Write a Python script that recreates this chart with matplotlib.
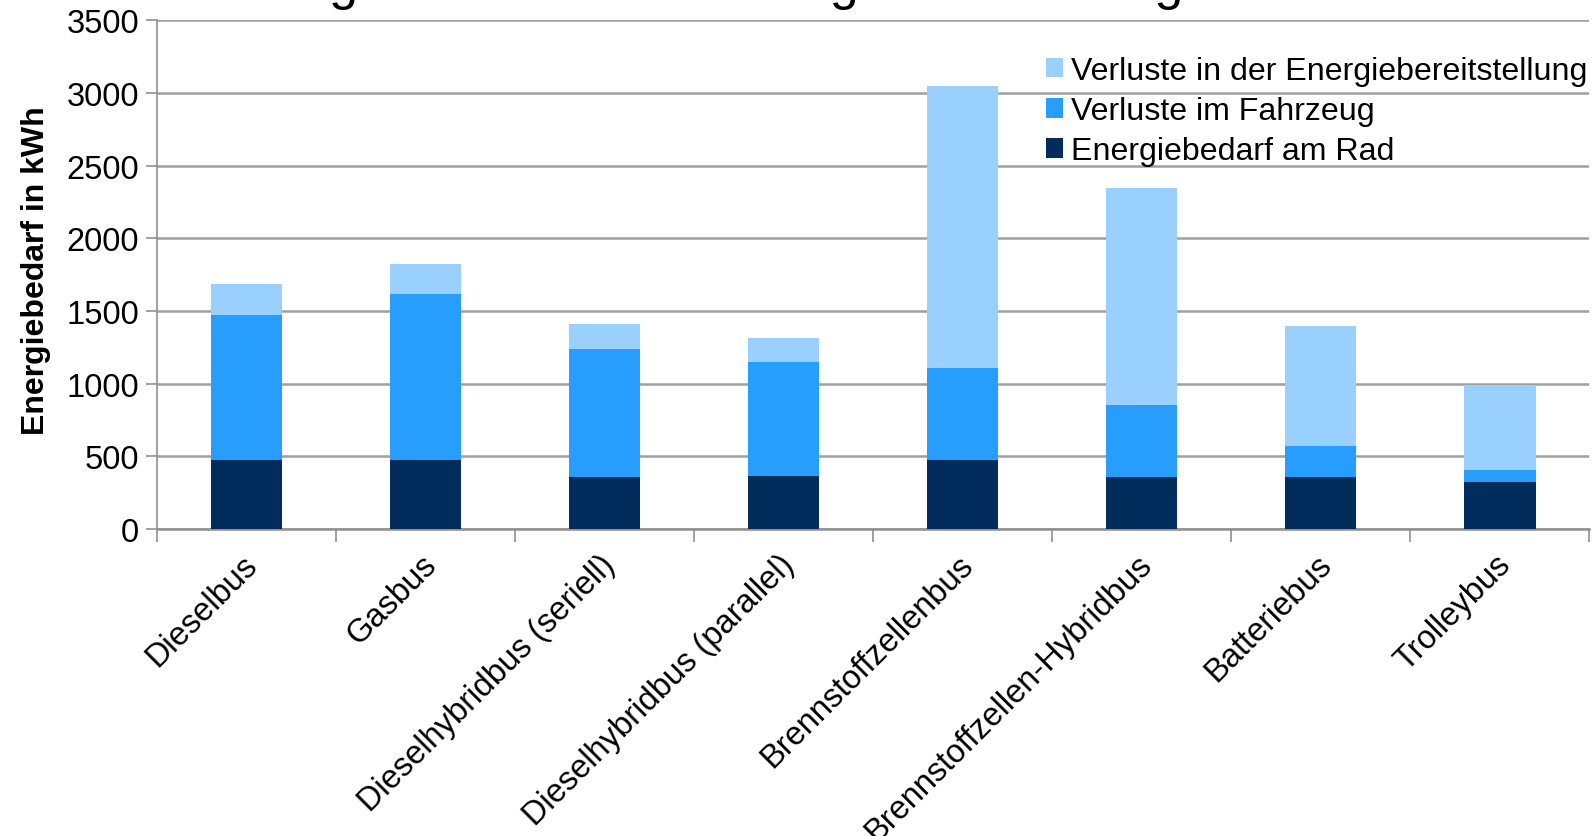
import matplotlib
matplotlib.use("Agg")
import matplotlib.pyplot as plt
import numpy as np

plt.rcParams["font.family"] = ["Liberation Sans", "DejaVu Sans"]

categories = ["Dieselbus", "Gasbus", "Dieselhybridbus (seriell)", "Dieselhybridbus (parallel)",
              "Brennstoffzellenbus", "Brennstoffzellen-Hybridbus", "Batteriebus", "Trolleybus"]
rad = [475, 475, 360, 365, 475, 360, 360, 325]
fahrzeug = [1000, 1140, 880, 785, 635, 490, 210, 80]
bereitstellung = [210, 210, 170, 165, 1940, 1495, 830, 585]

title = "Energiebedarf bei einer Tagesfahrleistung"

fig = plt.figure(figsize=(15.94, 8.37), dpi=100)
ax = fig.add_axes([0.0985, 0.3668, 0.8985, 0.6076])

x = np.arange(len(categories))
w = 0.4
b1 = ax.bar(x, rad, w, color="#022c5c", label="Energiebedarf am Rad", zorder=3)
b2 = ax.bar(x, fahrzeug, w, bottom=rad, color="#279dfe", label="Verluste im Fahrzeug", zorder=3)
bottom2 = np.array(rad) + np.array(fahrzeug)
b3 = ax.bar(x, bereitstellung, w, bottom=bottom2, color="#9ad0fe",
            label="Verluste in der Energiebereitstellung", zorder=3)

ax.set_xlim(-0.5, len(categories) - 0.5)
ax.set_ylim(0, 3500)
ax.set_yticks(np.arange(0, 3501, 500))
ax.yaxis.grid(True, color="#a0a0a0", linewidth=1.8, zorder=0)
ax.tick_params(axis="y", labelsize=23.5, length=8, width=1.2, color="#909090", pad=5)

ax.set_xticks(x)
ax.set_xticklabels(categories, rotation=45, ha="right", rotation_mode="anchor", fontsize=23.5)
ax.tick_params(axis="x", length=0, pad=14)
ax.set_xticks(np.arange(-0.5, len(categories)), minor=True)
ax.tick_params(axis="x", which="minor", length=9, width=1.2, color="#909090")
for lbl in ax.get_xticklabels():
    lbl.set_transform(lbl.get_transform() + matplotlib.transforms.ScaledTranslation(-0.05, 0, fig.dpi_scale_trans))

for side in ("top", "right"):
    ax.spines[side].set_visible(False)
ax.spines["left"].set_color("#909090")
ax.spines["bottom"].set_color("#909090")
ax.spines["left"].set_linewidth(1.2)
ax.spines["bottom"].set_linewidth(1.8)

ax.set_ylabel("Energiebedarf in kWh", fontsize=23, fontweight="bold")
ax.yaxis.set_label_coords(-0.074, 0.51)

ax.legend(handles=[b3, b2, b1], loc="upper left", bbox_to_anchor=(0.607, 0.968), frameon=False,
          fontsize=23.1, handlelength=0.55, handleheight=0.55, handletextpad=0.25, labelspacing=0.32,
          borderaxespad=0.2)

fig.text(219 / 1594, 1.001, title, fontsize=37.5, ha="left", va="baseline")

fig.savefig("out.png", dpi=100)
